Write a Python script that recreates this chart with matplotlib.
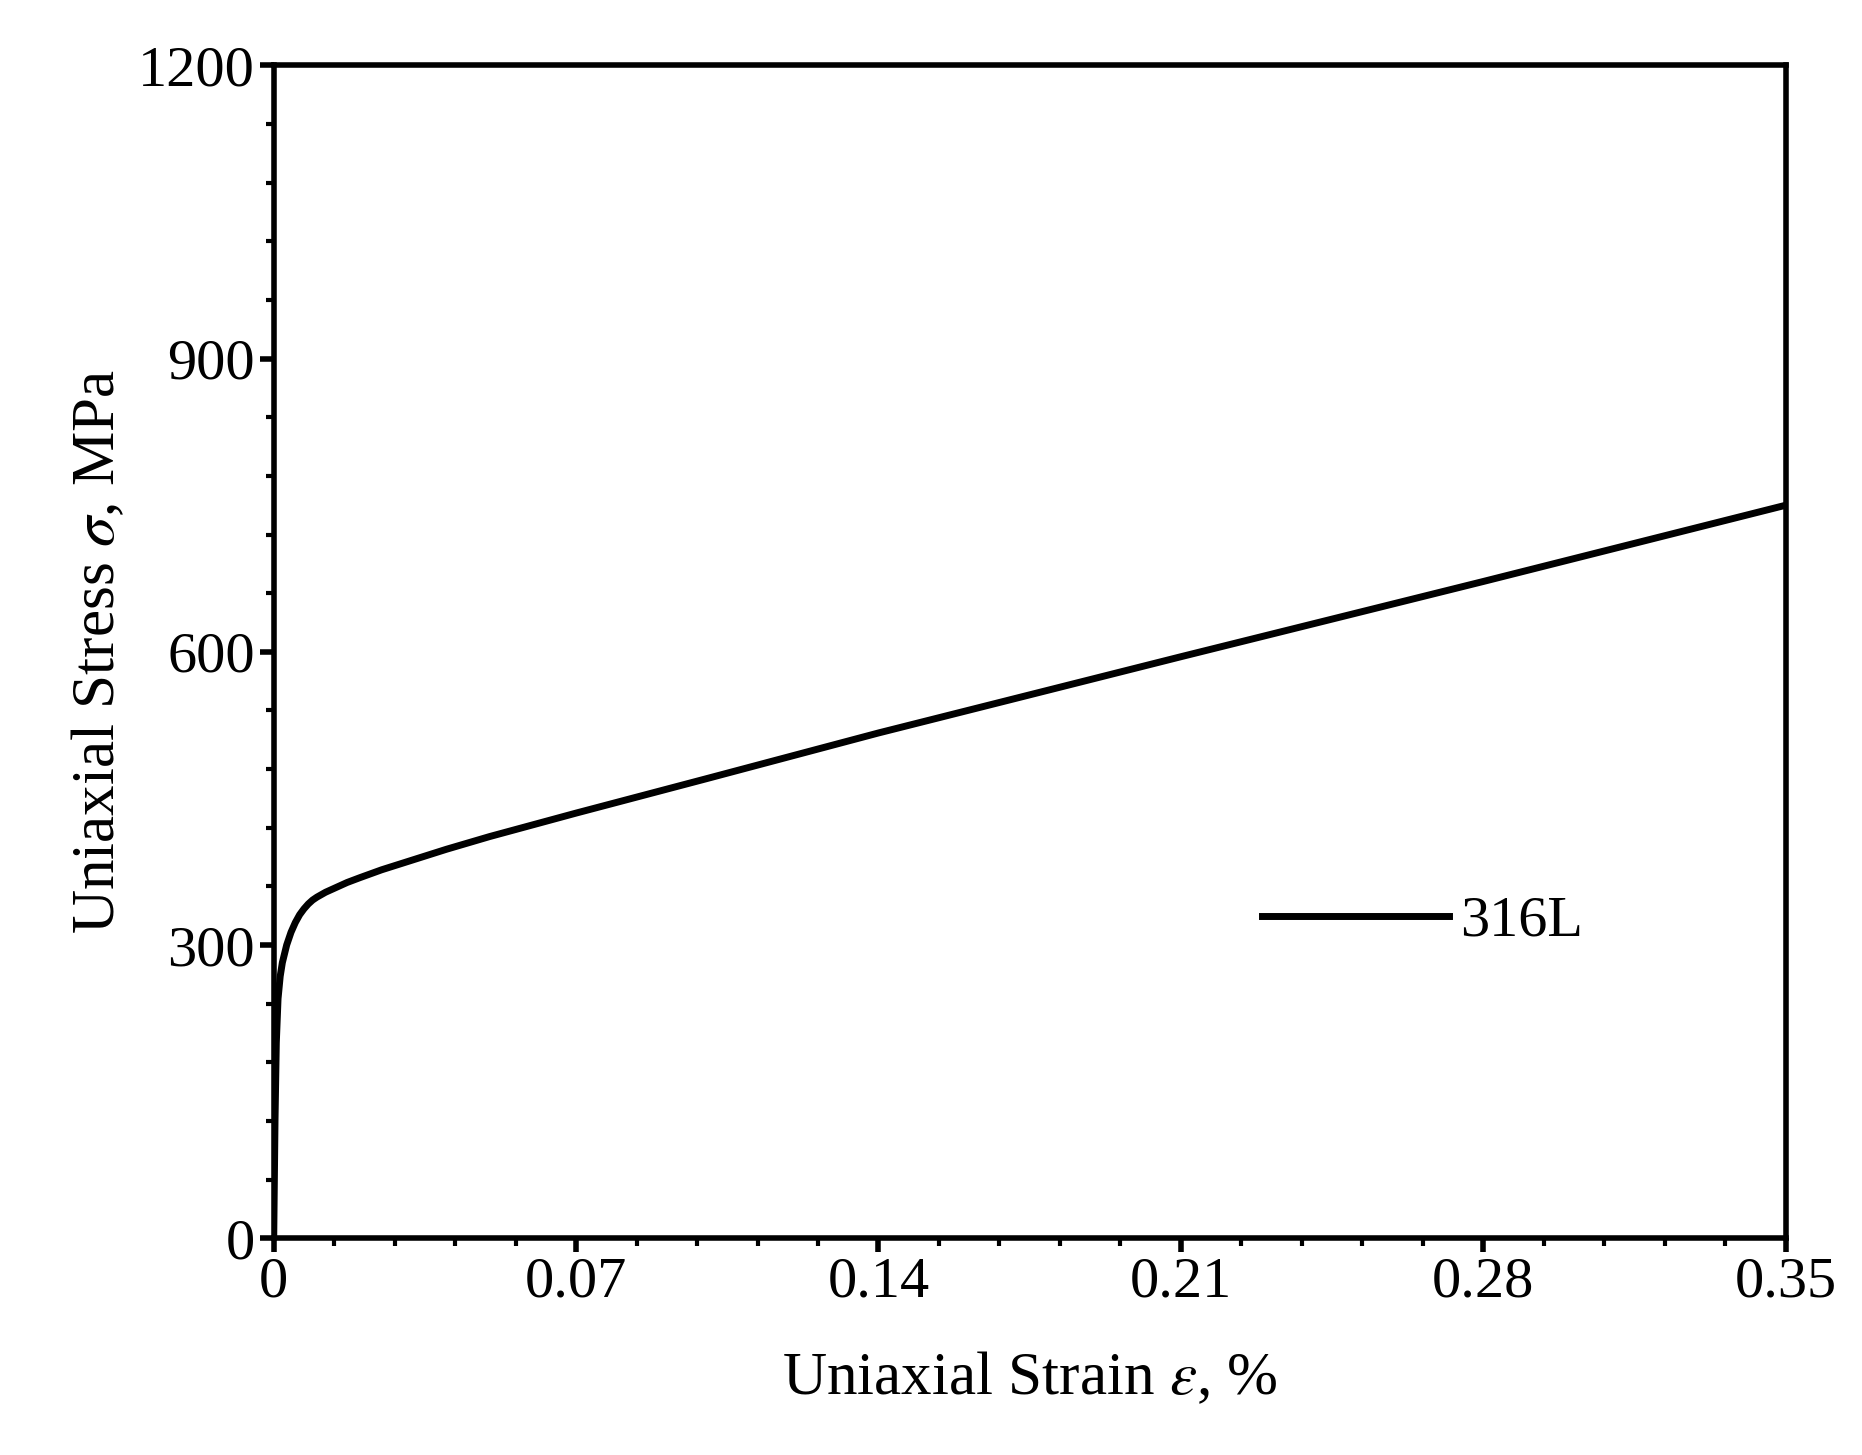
import matplotlib
matplotlib.use("Agg")
import matplotlib.pyplot as plt
from matplotlib.ticker import MultipleLocator

strain = [0, 0.0003, 0.0006, 0.001, 0.0015, 0.002, 0.003, 0.004, 0.005, 0.006, 0.007, 0.008, 0.009, 0.01, 0.012, 0.014, 0.017, 0.02, 0.025, 0.03, 0.04, 0.05, 0.07, 0.1, 0.14, 0.21, 0.28, 0.35]
stress = [0, 120, 200, 245, 268, 282, 300, 313, 323, 331, 337, 342, 346, 349, 354, 358, 364, 369, 377, 384, 398, 411, 435, 470, 517, 595, 672, 750]

plt.rcParams['font.family'] = ['Liberation Serif', 'DejaVu Serif']
plt.rcParams['mathtext.fontset'] = 'stix'
fig = plt.figure(figsize=(18.62, 14.55), dpi=100)
ax = fig.add_axes([0.147, 0.149, 0.812, 0.806])
ax.plot(strain, stress, color='black', lw=5, label='316L')
ax.set_xlim(0, 0.35)
ax.set_ylim(0, 1200)
ax.xaxis.set_minor_locator(MultipleLocator(0.014))
ax.yaxis.set_major_locator(MultipleLocator(300))
ax.yaxis.set_minor_locator(MultipleLocator(60))
ax.set_xticks([0, 0.07, 0.14, 0.21, 0.28, 0.35])
ax.set_xticklabels(['0', '0.07', '0.14', '0.21', '0.28', '0.35'])
for s in ax.spines.values():
    s.set_linewidth(4)
ax.tick_params(which='major', direction='out', length=10, width=4, labelsize=42, top=False, right=False)
ax.tick_params(which='minor', direction='out', length=6, width=3, top=False, right=False)
ax.set_xlabel(r'Uniaxial Strain $\varepsilon$, %', fontsize=44, labelpad=30)
ax.set_ylabel(r'Uniaxial Stress $\sigma$, MPa', fontsize=44, labelpad=8)
ax.legend(loc='center', bbox_to_anchor=(0.76, 0.27), frameon=False, fontsize=42,
          handlelength=3.2, handletextpad=0.2)
fig.savefig('out.png', dpi=100)
